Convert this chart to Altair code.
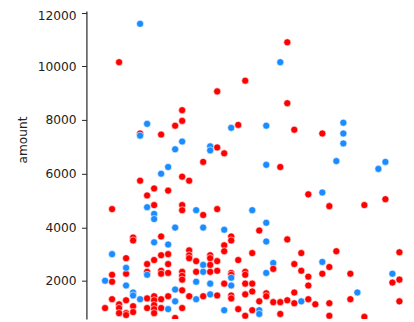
import altair as alt
import pandas as pd

# x position (day index, axis not shown in the crop), amount, and group
days = [
    5, 2, 20, 16, 11, 11, 6, 10, 5, 5, 8, 18, 19, 10, 11, 15, 15, 16, 17, 26, 25, 26, 23, 27, 31, 34, 34, 34,
    14, 9, 8, 11, 12, 5, 7, 9, 6, 1, 6, 7, 7, 7, 11, 11, 13, 14, 16, 10, 14, 17, 8, 23, 25, 33, 40, 39, 29, 31, 32, 37, 40, 21, 23, 22,
    4, 4, 7, 9, 18, 18, 23, 26, 1, 3, 6, 7, 8, 9, 9, 12, 12, 12, 17, 17, 21, 28, 33, 42, 15, 15, 13, 15, 16, 19,
    14, 13, 14, 15, 16, 24, 24, 23, 27, 28, 18, 18, 18, 20, 20, 3, 3, 8, 8, 9, 1, 1, 0, 6, 6, 11, 11, 11,
    3, 18, 17, 20, 21, 15, 13, 31, 32, 29, 31, 35, 41, 41, 42, 29, 10, 11, 4, 4, 21, 20, 15, 16, 23, 23, 27, 36,
    1, 3, 5, 6, 7, 7, 8, 9, 10, 12, 13, 14, 18, 18, 22, 24, 25, 26, 27, 28, 29, 30, 32, 35, 42,
    0, 2, 2, 4, 6, 7, 7, 8, 9, 11, 17, 19, 21, 22, 22, 20, 25, 2, 3, 3, 4, 7, 10, 32, 37,
]
amounts = [
    11590, 10160, 9470, 9070, 8370, 7970, 7860, 7790, 7500, 7420, 7460, 7710, 7820, 6910, 7200, 7020, 6870, 6980, 6760, 10900, 10160, 8630, 7790, 7640, 7500, 7900, 7500, 7130,
    6440, 6250, 6000, 5890, 5740, 5740, 5450, 5370, 5190, 4680, 4750, 4830, 4500, 4310, 4830, 4640, 4640, 4460, 4680, 3990, 3990, 3910, 3660, 6330, 6250, 6470, 6440, 6180, 5230, 5300, 4790, 4830, 5050, 4640, 4170, 3880,
    3620, 3510, 3440, 3360, 3660, 3510, 3470, 3550, 3000, 2850, 2630, 2780, 2960, 3000, 2630, 3140, 2960, 2850, 3330, 3110, 3040, 3040, 3110, 3070, 2960, 2850, 2740, 2600, 2740, 2780,
    2600, 2340, 2340, 2340, 2380, 2670, 2450, 2300, 2630, 2380, 2300, 2230, 2120, 2340, 2230, 2270, 2490, 2380, 2270, 2300, 2230, 1970, 2010, 2340, 2230, 2340, 2190, 2050,
    1830, 1830, 1900, 1900, 1900, 1900, 1970, 2710, 2520, 2160, 2270, 2270, 2270, 1940, 2050, 1830, 1680, 1650, 1570, 1460, 1610, 1500, 1500, 1460, 1540, 1430, 1570, 1570,
    1320, 1280, 1320, 1350, 1430, 1280, 1320, 1430, 1240, 1430, 1320, 1430, 1460, 1350, 1240, 1210, 1210, 1280, 1170, 1240, 1320, 1130, 1170, 1320, 1240,
    990, 1130, 990, 1060, 990, 1100, 950, 990, 950, 990, 910, 950, 910, 910, 770, 700, 770, 800, 800, 730, 840, 800, 620, 700, 660,
]
groups = [
    "B", "A", "A", "A", "A", "A", "B", "A", "A", "B", "A", "B", "A", "B", "B", "B", "B", "A", "A", "A", "B", "A", "B", "A", "A", "B", "B", "B",
    "A", "B", "B", "A", "A", "A", "A", "A", "A", "A", "B", "A", "B", "B", "A", "A", "B", "A", "A", "B", "B", "B", "A", "B", "A", "B", "B", "B", "A", "B", "A", "A", "A", "B", "B", "A",
    "A", "A", "B", "B", "A", "A", "B", "A", "B", "A", "A", "A", "A", "A", "A", "A", "A", "A", "A", "A", "A", "A", "A", "A", "A", "A", "A", "A", "A", "A",
    "B", "A", "B", "A", "A", "B", "A", "B", "A", "A", "A", "A", "B", "A", "A", "A", "B", "A", "A", "A", "A", "A", "B", "A", "B", "A", "A", "A",
    "B", "B", "A", "A", "A", "B", "B", "B", "A", "A", "A", "A", "B", "A", "A", "A", "B", "A", "B", "B", "A", "A", "B", "A", "A", "A", "A", "B",
    "A", "A", "B", "A", "A", "A", "A", "A", "B", "A", "B", "A", "A", "A", "A", "A", "A", "A", "A", "B", "A", "A", "A", "A", "A",
    "A", "A", "A", "A", "A", "A", "A", "A", "B", "A", "B", "A", "A", "B", "B", "A", "A", "A", "A", "A", "A", "A", "A", "A", "A",
]

y_ticks = [2000, 4000, 6000, 8000, 10000, 12000]

df = pd.DataFrame({"day": days, "amount": amounts, "group": groups})

chart = (
    alt.Chart(df)
    .mark_circle(size=52, opacity=1, stroke="white", strokeWidth=0.6, clip=True)
    .encode(
        x=alt.X("day:Q", axis=None,
                scale=alt.Scale(domain=[-2.66, 42.94], nice=False, zero=False)),
        y=alt.Y("amount:Q", title="amount",
                scale=alt.Scale(domain=[585, 12065], nice=False, zero=False),
                axis=alt.Axis(values=y_ticks, format="d",
                              grid=False, tickSize=5, tickColor="#222222",
                              domainColor="#222222", domainWidth=1.2, tickWidth=1,
                              labelFont="DejaVu Sans", labelFontSize=12.5,
                              labelColor="#222222", labelPadding=5.5,
                              labelOffset={"condition": {"test": "datum.value >= 12000", "value": 3},
                                           "value": 0},
                              titleFont="DejaVu Sans", titleFontSize=12.4,
                              titleFontWeight="normal", titleColor="#222222",
                              titlePadding=8, titleY=131)),
        color=alt.Color("group:N", legend=None,
                        scale=alt.Scale(domain=["A", "B"], range=["#ff0000", "#1a8cff"])),
    )
    .properties(width=326, height=314,
                autosize=alt.AutoSizeParams(type="none"),
                padding={"left": 80, "top": 0, "right": 0, "bottom": 0})
    .configure_view(stroke=None)
)

chart.save("out.html", embed_options={"renderer": "svg", "actions": False})
